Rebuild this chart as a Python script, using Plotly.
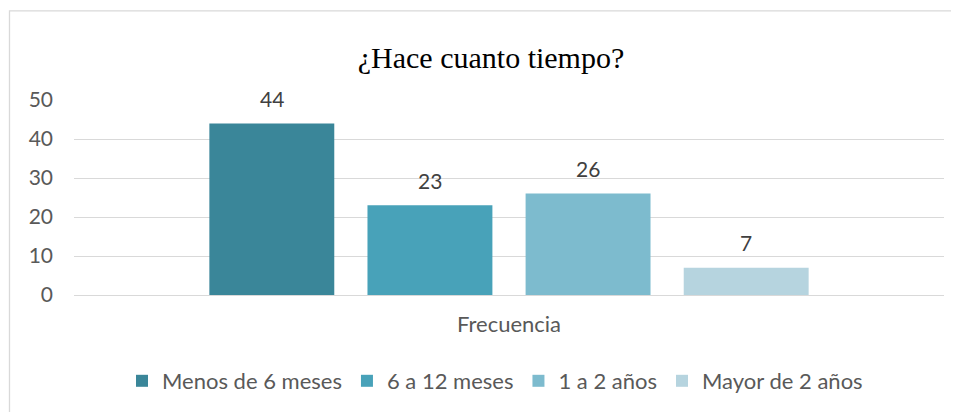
import plotly.graph_objects as go

categories = ["Frecuencia"]
series_names = ["Menos de 6 meses", "6 a 12 meses", "1 a 2 años", "Mayor de 2 años"]
series_values = [44, 23, 26, 7]
colors = ["#3A8699", "#48A2B9", "#7DBBCE", "#B6D4DF"]
y_ticks = [0, 10, 20, 30, 40, 50]

# page has an 8px body margin, so the figure is sized to fit inside the window
W, H = 951, 404
ML, MR, MT, MB = 66, 15, 92, 116
pw = W - ML - MR
ph = H - MT - MB
BARGAP, GROUPGAP = 0.273, 0.21

def px_x(p):
    return (p - ML) / pw

def px_y(p):
    return (H - MB - p) / ph

FONT = "Lato, Open Sans, sans-serif"

fig = go.Figure()
for name, val, col in zip(series_names, series_values, colors):
    fig.add_trace(go.Bar(
        x=categories, y=[val], name=name, marker_color=col,
        marker_line_width=0, cliponaxis=False,
    ))

# data labels above each bar (offset derived from bar layout parameters)
n = len(series_values)
slot = pw * (1 - BARGAP) / n
annotations = []
for i, val in enumerate(series_values):
    annotations.append(dict(
        x=categories[0], y=val, xref="x", yref="y", text=str(val), showarrow=False,
        xshift=(i - (n - 1) / 2) * slot, yshift=25, yanchor="middle",
        font=dict(family=FONT, size=21, color="#404040"),
    ))

fig.update_layout(
    width=W, height=H,
    margin=dict(l=ML, r=MR, t=MT, b=MB),
    paper_bgcolor="white", plot_bgcolor="white",
    barmode="group", bargap=BARGAP, bargroupgap=GROUPGAP,
    title=dict(text="¿Hace cuanto tiempo?", x=px_x(483), xref="paper", xanchor="center",
               y=1 - 49 / H, yanchor="middle",
               font=dict(family="Liberation Serif, Times New Roman, serif", size=30, color="#000000")),
    font=dict(family=FONT, color="#595959", size=21),
    showlegend=True,
    legend=dict(orientation="h", x=px_x(487), xanchor="center", y=px_y(373), yanchor="middle",
                font=dict(size=22, color="#595959"), itemwidth=30, traceorder="normal"),
    yaxis=dict(range=[0, 50], tickvals=y_ticks, showgrid=True, gridcolor="#D9D9D9", gridwidth=1.3,
               zeroline=True, zerolinecolor="#D9D9D9", zerolinewidth=1.3, showline=False,
               ticks="", ticklabelstandoff=20, tickfont=dict(size=21, color="#595959")),
    xaxis=dict(showline=False, ticks="", tickfont=dict(size=22, color="#595959"), ticklabelstandoff=14),
    annotations=annotations,
    shapes=[dict(type="rect", xref="paper", yref="paper",
                 x0=px_x(1.5), x1=px_x(975), y0=px_y(430), y1=px_y(2.5),
                 line=dict(color="#D9D9D9", width=1.3), fillcolor="rgba(0,0,0,0)", layer="below")],
)

fig.write_html("out.html")
